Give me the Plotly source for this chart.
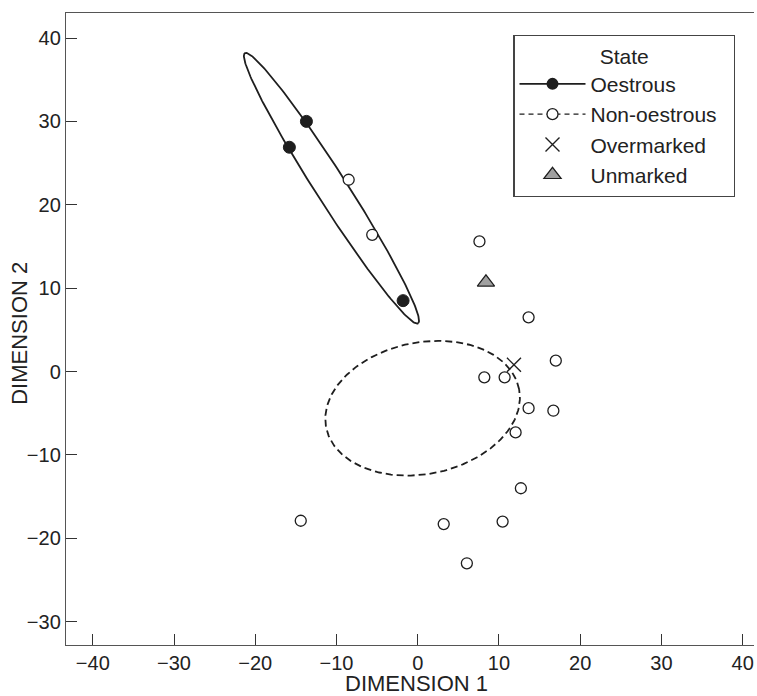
import numpy as np
import plotly.graph_objects as go

# ---- data ----
oestrous_x = [-13.7, -15.8, -1.8]
oestrous_y = [30.0, 26.9, 8.5]

non_oestrous_x = [-8.5, -5.6, 7.6, 13.65, 17.0, 8.2, 10.7, 13.65, 16.7, 12.05, 12.7, 3.2, 10.45, 6.05, -14.4]
non_oestrous_y = [23.0, 16.4, 15.6, 6.5, 1.3, -0.7, -0.7, -4.4, -4.7, -7.3, -14.0, -18.3, -18.0, -23.0, -17.9]

overmarked_x = [11.85]
overmarked_y = [0.8]

unmarked_x = [8.4]
unmarked_y = [10.7]

# ellipse parameters: centre x, centre y, semi-major, semi-minor, angle (deg)
oestrous_ellipse = (-10.62, 21.98, 19.4, 1.9, -56.66)
non_oestrous_ellipse = (0.6, -4.4, 12.1, 7.9, 10.7)

x_ticks = [-40, -30, -20, -10, 0, 10, 20, 30, 40]
y_ticks = [-30, -20, -10, 0, 10, 20, 30, 40]
x_tick_text = ["\u221240", "\u221230", "\u221220", "\u221210", "0", "10", "20", "30", "40"]
y_tick_text = ["\u221230", "\u221220", "\u221210", "0", "10", "20", "30", "40"]

x_title = "DIMENSION 1"
y_title = "DIMENSION 2"


def ellipse(params, n=240):
    cx, cy, a, b, ang = params
    t = np.linspace(0, 2 * np.pi, n)
    th = np.deg2rad(ang)
    ex = cx + a * np.cos(t) * np.cos(th) - b * np.sin(t) * np.sin(th)
    ey = cy + a * np.cos(t) * np.sin(th) + b * np.sin(t) * np.cos(th)
    return ex, ey


INK = "#1e1e1e"
FONT = "Liberation Sans, Arial, sans-serif"
NB = "\u00a0"

fig = go.Figure()

ox, oy = ellipse(oestrous_ellipse)
nx, ny = ellipse(non_oestrous_ellipse)

fig.add_trace(go.Scatter(x=ox, y=oy, mode="lines", line=dict(color=INK, width=1.8),
                         showlegend=False, hoverinfo="skip"))
fig.add_trace(go.Scatter(x=nx, y=ny, mode="lines", line=dict(color=INK, width=1.8, dash="7px,4px"),
                         showlegend=False, hoverinfo="skip"))

fig.add_trace(go.Scatter(x=non_oestrous_x, y=non_oestrous_y, mode="markers",
                         marker=dict(symbol="circle", size=11, color="white",
                                     line=dict(color=INK, width=1.3)),
                         showlegend=False))
fig.add_trace(go.Scatter(x=oestrous_x, y=oestrous_y, mode="markers",
                         marker=dict(symbol="circle", size=12, color=INK,
                                     line=dict(color=INK, width=1)),
                         showlegend=False))

# legend entries
fig.add_trace(go.Scatter(x=[None], y=[None], mode="lines+markers", name="Oestrous",
                         line=dict(color=INK, width=1.8),
                         marker=dict(symbol="circle", size=12, color=INK)))
fig.add_trace(go.Scatter(x=[None], y=[None], mode="lines+markers", name="Non-oestrous" + NB + NB,
                         line=dict(color=INK, width=1.3, dash="5px,4px"),
                         marker=dict(symbol="circle", size=11, color="white",
                                     line=dict(color=INK, width=1.3))))

fig.add_trace(go.Scatter(x=overmarked_x, y=overmarked_y, mode="markers", name="Overmarked",
                         marker=dict(symbol="x-thin", size=14, line=dict(color=INK, width=1.4))))
fig.add_trace(go.Scatter(x=unmarked_x, y=unmarked_y, mode="markers", name="Unmarked",
                         marker=dict(symbol="triangle-up", size=15, color="#a0a0a0",
                                     line=dict(color=INK, width=1.2))))

axis_common = dict(
    showgrid=False, zeroline=False, showline=True, linecolor="#555555", linewidth=1.4,
    ticks="inside", ticklen=11, tickwidth=1.3, tickcolor="#333333", automargin=False,
    tickfont=dict(size=20, color="#222222", family=FONT),
)

fig.update_layout(
    width=757, height=696,
    margin=dict(l=66, r=3, t=13, b=51),
    paper_bgcolor="white", plot_bgcolor="white",
    font=dict(family=FONT, color="#222222", size=21),
    xaxis=dict(range=[-43.3, 41.4], tickvals=x_ticks, ticktext=x_tick_text, mirror=True,
               **axis_common),
    yaxis=dict(range=[-32.8, 43], tickvals=y_ticks, ticktext=y_tick_text,
               **axis_common),
    legend=dict(x=0.65, y=0.965, xanchor="left", yanchor="top",
                bordercolor="#444444", borderwidth=1.3, bgcolor="white",
                font=dict(size=21, color="#222222"), itemwidth=66,
                title=dict(text="State", side="top center", font=dict(size=21)),
                tracegroupgap=4),
    showlegend=True,
    annotations=[
        dict(text=x_title, xref="paper", yref="paper", x=0.51, y=-0.0617,
             xanchor="center", yanchor="middle", showarrow=False,
             font=dict(size=22, color="#222222", family=FONT)),
        dict(text=y_title, xref="paper", yref="paper", x=-0.0669, y=0.494,
             xanchor="center", yanchor="middle", showarrow=False, textangle=-90,
             font=dict(size=22, color="#222222", family=FONT)),
    ],
)

fig.write_html("out.html", config={"displayModeBar": False},
               post_script="document.body.style.margin='0';")
